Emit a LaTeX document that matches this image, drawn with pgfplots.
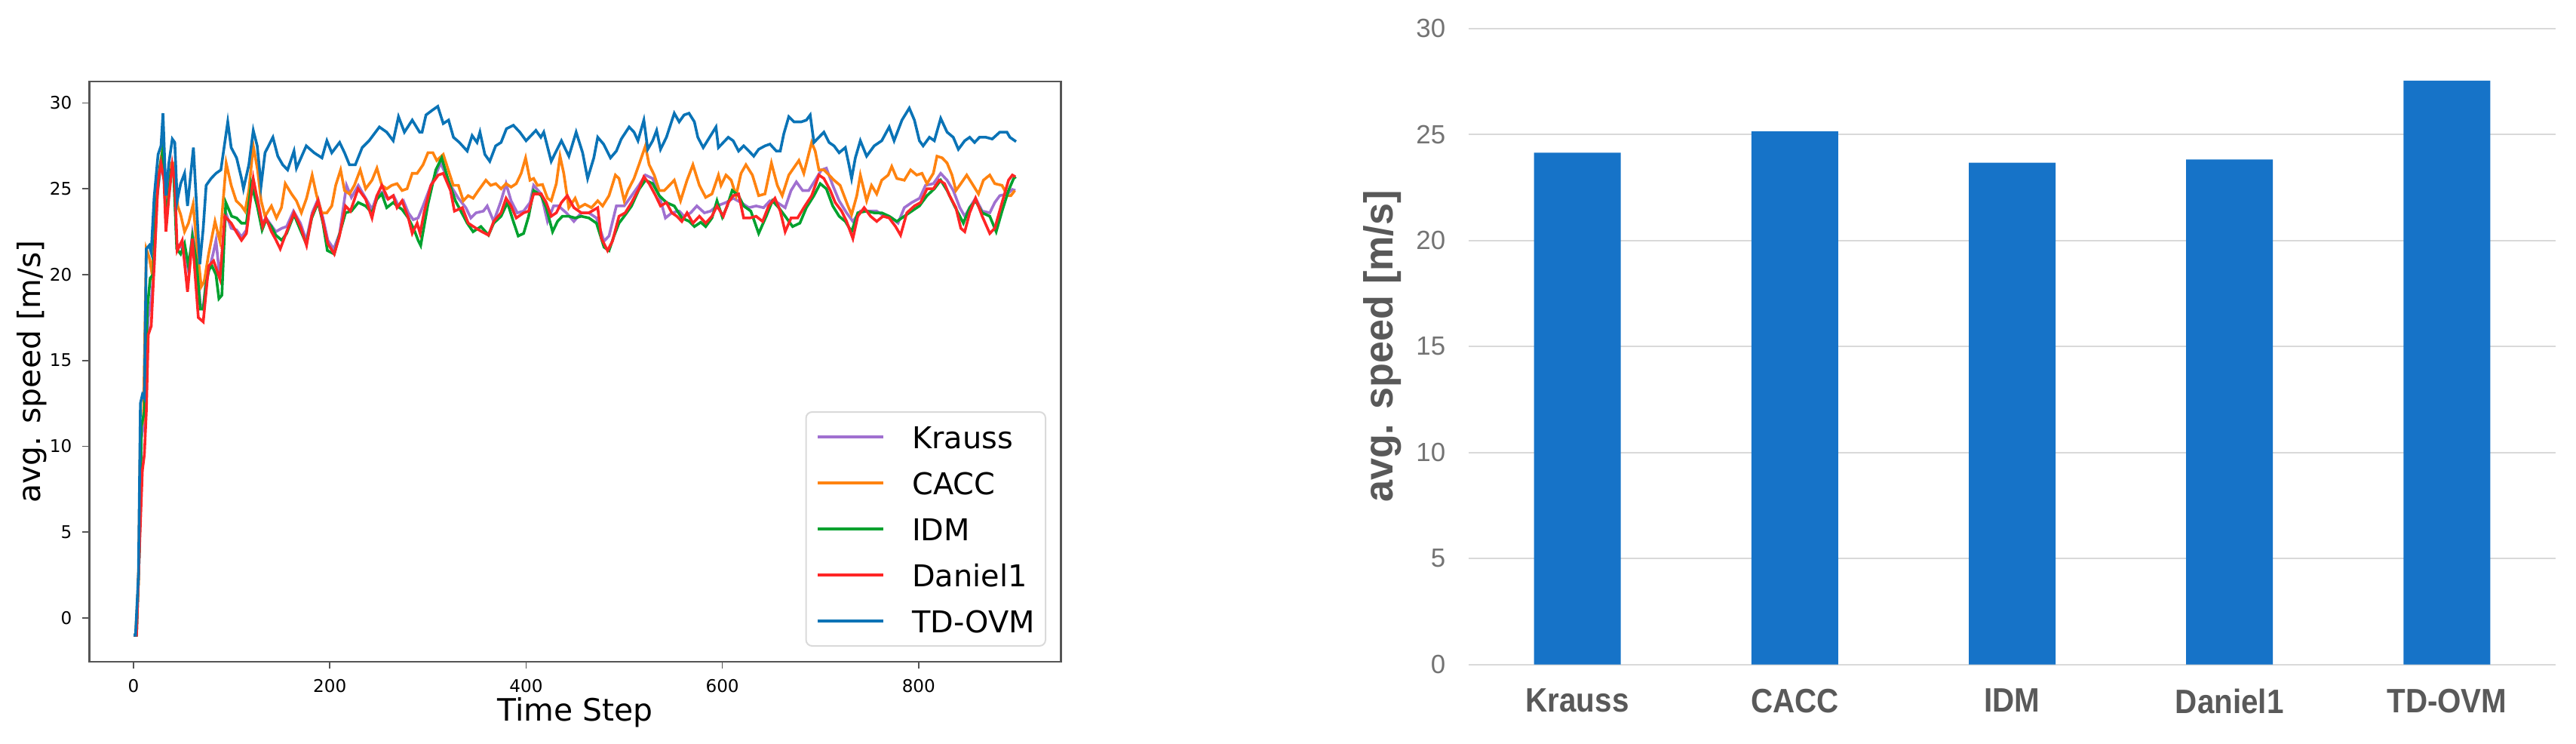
\documentclass[border=0pt]{standalone}
\usepackage{fontspec}
\usepackage{graphicx}
\usepackage{pgfplots}
\pgfplotsset{compat=1.18}
\setmainfont{DejaVu Sans}
\newfontfamily\libsans{Liberation Sans}
\definecolor{cKrauss}{HTML}{A070D0}
\definecolor{cCACC}{HTML}{FF8310}
\definecolor{cIDM}{HTML}{00A12E}
\definecolor{cDaniel}{HTML}{FF2525}
\definecolor{cTDOVM}{HTML}{0A73B6}
\definecolor{spine}{HTML}{555555}
\definecolor{legendgray}{HTML}{DADADA}
\definecolor{barblue}{HTML}{1673C8}
\definecolor{gridgray}{HTML}{D9D9D9}
\definecolor{tickgray}{HTML}{737373}
\definecolor{labgray}{HTML}{595959}
\pgfplotsset{/pgf/number format/assume math mode=true}
\begin{document}
\begin{tikzpicture}
\useasboundingbox (0,0) rectangle (853.75bp,-246.5bp);
% ---------------- left: time series ----------------
\begin{axis}[
  at={(29.625bp,-219.25bp)}, anchor=south west,
  width=322bp, height=192.25bp, scale only axis,
  xmin=-45, xmax=945, ymin=-2.55, ymax=31.25,
  xtick={0,200,400,600,800}, ytick={0,5,10,15,20,25,30},
  tick align=outside, tick pos=left, major tick length=2.3bp,
  tick style={color=spine, line width=0.4bp},
  axis line style={color=spine, line width=0.7bp},
  ticklabel style={font=\fontsize{5.8}{7}\selectfont, color=black},
  xlabel={Time Step}, ylabel={avg. speed [m/s]},
  label style={font=\fontsize{10.25}{12}\selectfont},
  xlabel style={at={(axis description cs:0.5,-0.0611)}, anchor=north, inner sep=0pt},
  ylabel style={at={(axis description cs:-0.0594,0.5)}, anchor=center},
  legend cell align=left,
  legend image code/.code={\draw[#1] (0bp,0bp) -- (21.75bp,0bp);},
  legend style={at={(rel axis cs:0.9849,0.026)}, anchor=south east,
    draw=legendgray, line width=0.5bp, rounded corners=2bp, fill=white,
    font=\fontsize{10}{12}\selectfont, inner xsep=3.5bp, inner ysep=4.5bp,
    row sep=7.75bp, column sep=9bp,
    nodes={inner sep=0pt, text height=7.5bp, text depth=0pt}},
  every axis plot/.append style={line width=0.9bp},
]
\addplot[cKrauss] coordinates {(0,-1)(3,-1)(6,4)(8,10.5)(11,11.5)(13,13)(15,17.5)(18,18.5)(21,20.5)(24,24.5)(28,26.5)(30,27)(33,23.5)(38,26.2)(41,25.8)(44,21.8)(48,21.6)(52,21.5)(56,20.2)(60,22.4)(64,21.0)(68,18.3)(71,18.0)(74,19.8)(78,20.5)(81,21.2)(84,22.0)(87,20.3)(90,20.8)(94,23.6)(99.5,22.7)(105,22.6)(110,22.2)(115,22.6)(120,25.0)(126,24.5)(131,23.0)(135,23.3)(140,22.9)(145,22.5)(151,22.7)(156,22.8)(163,23.7)(170,23.0)(176,22.0)(182,23.6)(188,24.4)(193,23.3)(198,22.0)(204,21.5)(210,22.4)(217,25.2)(222,24.5)(229,25.2)(236,24.5)(243,23.8)(248,24.6)(253,24.8)(259,24.4)(265,24.6)(270,24.0)(275,24.3)(280,23.6)(285,23.2)(290,23.3)(295,24.0)(303,25.2)(313,26.5)(323,25.2)(331,24.45)(338.6,23.9)(343.7,23.3)(349,23.6)(356.5,23.7)(360.4,24.0)(367,23.1)(374.5,24.3)(379.6,25.3)(384.7,24.3)(391,23.6)(397.5,23.7)(404,24.2)(407.7,25.2)(415.4,24.7)(421.8,23.1)(428,24.0)(433,24.0)(441,23.6)(448.7,23.1)(456.3,23.6)(464,23.6)(471.7,23.3)(479.4,21.95)(484.5,22.25)(492,24.0)(500,24.0)(507.5,24.6)(515,25.2)(521.6,25.8)(529,25.6)(535.7,24.6)(542,23.3)(548.5,23.6)(556,23.7)(561,23.4)(567.7,23.6)(574,24.0)(581.7,23.6)(588,23.7)(594.5,24.0)(603.7,24.2)(611,24.45)(619,24.2)(627,23.9)(634.4,24.0)(642,23.9)(648.5,24.3)(656,24.2)(664,23.9)(670,24.9)(675.4,25.4)(681.8,24.9)(688,24.9)(694.6,25.5)(701,26.1)(706,26.2)(712.5,25.2)(719,24.3)(726.6,23.6)(733,23.1)(740.6,23.7)(748,23.7)(757.3,23.7)(765,23.4)(772.6,23.3)(779,23.0)(785.4,23.9)(793,24.2)(801,24.45)(807,25.2)(815,25.3)(822.5,25.9)(829,25.5)(835.3,24.9)(842,23.9)(847,23.4)(852,23.9)(858,24.45)(864.8,23.7)(872.5,23.6)(877.6,24.2)(882.7,24.6)(890.4,24.7)(895.5,24.96)(898.6,24.9)};
\addlegendentry{Krauss}
\addplot[cCACC] coordinates {(0,-1)(2,-1)(5,2)(7,11)(10,11.5)(13,21.5)(16,21)(19,20)(22,23.5)(26,26)(30,27.5)(33,24.5)(38,26.5)(42,26.5)(45,24.0)(48,23.5)(52,22.5)(56,23.0)(60.7,24.1)(64,22.0)(69,19.3)(72,19.6)(76.5,21.2)(83,23.1)(88,21.95)(94.4,26.5)(99.5,25.2)(104.6,24.3)(110,24.0)(113.6,23.7)(117.5,24.9)(122,27.5)(126.4,26.1)(130,24.3)(134,23.4)(140.5,24.0)(145.6,23.3)(150.7,23.9)(154.6,25.3)(161,24.7)(166,24.3)(171,23.6)(176.3,24.45)(182,25.8)(186.6,24.6)(191.7,23.6)(197,23.6)(202,24.0)(206,25.2)(211,26.1)(215,24.9)(220,24.7)(225,25.2)(231,26.1)(236.5,25.0)(243,25.5)(248,26.2)(253,25.2)(258,25.0)(263,25.2)(268.5,25.3)(273.6,24.9)(278.7,25.0)(284,25.9)(289,25.9)(295,26.4)(300,27.1)(305,27.1)(309,26.65)(315.6,27.0)(320.7,26.1)(325.8,25.2)(331,25.2)(336,24.3)(341,24.6)(346,24.45)(351.4,24.9)(359,25.5)(364,25.2)(369,25.3)(374.5,25.0)(379.6,25.3)(384.7,25.1)(390,25.3)(395,25.9)(399.5,26.8)(404,25.5)(407.7,25.6)(411.6,25.2)(416.7,25.25)(421.8,24.45)(425.6,24.3)(430.8,25.3)(434.6,26.9)(438.4,25.9)(443.5,23.9)(450,24.45)(453.8,23.9)(460,24.1)(466.6,23.9)(473,24.3)(478,24.0)(484.5,24.6)(491,25.8)(494.7,25.6)(500,24.3)(503.7,24.9)(510,25.6)(515,26.4)(521.6,27.5)(525.4,26.4)(530.6,25.8)(535.7,24.9)(540.8,24.9)(546,25.2)(551,25.5)(557.4,24.3)(564,25.5)(570,26.4)(576.6,25.2)(583,24.5)(589.4,24.7)(596,25.8)(598.6,25.2)(603.7,25.8)(609,25.5)(614,24.6)(619,25.9)(624,26.4)(630.6,25.8)(637,24.6)(643.4,24.7)(650,26.5)(656,25.2)(661,24.6)(667.7,25.8)(678,26.65)(683,25.9)(691,27.7)(694.6,27.2)(698.4,26.1)(703.5,26.1)(708.7,25.8)(713.8,25.5)(720,25.2)(724,24.6)(728,24.0)(731.7,23.5)(737,24.6)(740.6,25.8)(747,24.3)(752,25.2)(757.3,24.7)(762.4,25.5)(769,25.8)(772.6,26.3)(777.8,25.6)(785.4,25.5)(791.8,26.1)(798,25.8)(803.4,25.9)(808.5,25.3)(815,25.9)(818.7,26.9)(824,26.8)(829,26.5)(834,25.8)(838,24.9)(843,25.3)(849,25.8)(854.5,25.3)(861,24.7)(866,25.5)(872.5,25.8)(877.6,25.3)(885,25.2)(890.4,24.6)(894,24.6)(898,24.9)};
\addlegendentry{CACC}
\addplot[cIDM] coordinates {(0,-1)(3,-1)(6,4)(8,11.2)(11,12.0)(14,18.0)(17,19.8)(20,20.0)(23,24.0)(27,26.3)(30,27.3)(33,23.0)(38,26.0)(41,25.8)(44,21.5)(48,21.2)(52,21.8)(56,20.5)(60,22.2)(64,20.8)(68,18.0)(71,18.0)(74,19.5)(77,20.3)(80,20.5)(84,20.0)(87,18.6)(90,18.8)(94,24.2)(100,23.4)(105,23.3)(110,23.0)(115,23.0)(120,25.3)(126,24.0)(131,22.6)(135,23.2)(140.5,22.8)(145,22.3)(151,22.0)(156,22.4)(163.5,23.5)(170,22.6)(176,21.8)(181.6,23.3)(188,24.2)(193,23.0)(197.5,21.4)(204.5,21.2)(209.6,22.3)(216,23.6)(222,23.7)(229,24.2)(236.5,24.0)(243,23.6)(248,24.4)(253,24.7)(258,23.9)(264.6,24.2)(268.5,24.0)(273.6,23.8)(280,23.3)(286,22.6)(290,22.0)(292.6,21.7)(300,24.1)(308,26.1)(314,26.8)(320.7,25.5)(328,24.3)(333.5,23.7)(340,23.0)(346,22.5)(354,22.8)(361.7,22.3)(367,23.0)(374.5,23.4)(381,24.2)(387,23.1)(392,22.25)(397.5,22.4)(402.6,23.4)(407.7,24.9)(415.4,24.6)(420.5,23.9)(427,22.5)(432,23.1)(437,23.4)(443.6,23.4)(450,23.3)(456.3,23.4)(464,23.3)(471.7,23.0)(479.4,21.6)(484.5,21.4)(489.6,22.25)(494.7,23.0)(500,23.4)(507.5,24.0)(515,24.96)(521.6,25.5)(529,25.3)(535.7,24.6)(543,24.2)(551,24.0)(558.7,23.3)(566.4,23.1)(571.5,22.8)(578,23.05)(583,22.8)(589.4,23.3)(594.5,24.3)(600,23.35)(605,24.0)(610,24.9)(616.5,24.6)(621.7,24.0)(629,23.7)(637,22.4)(644.7,23.4)(651,24.3)(657.5,23.9)(664,23.4)(671.6,22.8)(679,23.0)(685.6,23.9)(693.3,24.6)(699.7,25.3)(706,25.0)(712.5,24.0)(719,23.4)(725.3,23.1)(731.7,22.5)(738,23.6)(747,23.7)(754.7,23.6)(762.4,23.6)(770,23.4)(777.8,23.1)(785.4,23.4)(793,23.7)(800.8,24.0)(808.5,24.6)(816,25.0)(822.5,25.5)(829,24.9)(836.6,24.0)(845.6,23.0)(852,23.9)(858,24.3)(864.8,23.6)(872.5,23.4)(879,22.5)(885,23.7)(891.6,24.9)(896.8,25.6)(899,25.7)};
\addlegendentry{IDM}
\addplot[cDaniel] coordinates {(0,-1)(3,-1)(6,4)(9,8.6)(11,9.5)(13,12.0)(15,16.5)(18,17.0)(21,20.5)(25,25.5)(28,26.5)(31,25.5)(33,22.5)(36,24.5)(39.5,26.4)(42,25.5)(44.5,21.4)(49.6,22.0)(55,19.0)(60,22.1)(66,17.5)(71,17.25)(76.5,20.5)(81.6,20.8)(88,19.75)(93,23.4)(99.5,23.0)(104.6,22.5)(110,22.0)(115,22.4)(122,25.6)(126.4,24.3)(131.5,22.8)(135,23.3)(140.5,22.5)(144.4,22.1)(149.5,21.5)(156,22.5)(163.5,23.6)(170,22.8)(176.3,21.7)(181.6,23.4)(188,24.3)(193,23.1)(198,21.8)(204.5,21.2)(209.6,22.2)(216,24.0)(221,23.7)(228.8,25.0)(236.5,24.4)(243,23.3)(248,24.6)(253,25.2)(259.5,24.4)(264.6,24.6)(268.5,23.9)(273.6,24.3)(280,23.3)(284,22.4)(289,23.0)(292,22.4)(296,23.6)(303,25.2)(310.5,25.8)(315.6,25.9)(323,24.9)(327,23.7)(335,23.9)(341,23.0)(349,22.7)(355,22.5)(361.7,22.3)(367,23.1)(374.5,23.6)(379.6,24.45)(384.7,24.0)(390,23.3)(397.5,23.6)(402.6,23.7)(407.7,24.7)(415.4,24.7)(420.5,24.2)(425.6,23.4)(430.8,23.6)(436,24.2)(442,24.6)(448.7,23.9)(456.3,23.6)(464,23.6)(473,23.9)(476.8,22.1)(483,21.4)(488,21.95)(494.7,23.4)(501,23.6)(507.5,24.2)(515,25.0)(520,25.7)(525.4,25.3)(532,24.6)(537,24.0)(543,24.2)(548.5,23.6)(553.6,23.4)(558.7,23.1)(564,23.6)(570,23.0)(576.6,23.4)(583,23.0)(589.4,23.4)(594.5,24.0)(601,23.4)(606,24.2)(611,24.6)(616.5,24.7)(621.7,23.3)(628,23.3)(634.4,23.4)(641,23.1)(647.2,24.0)(653.6,24.45)(659,23.7)(664,22.5)(670,23.3)(676.7,23.3)(683,23.9)(691,24.6)(698.4,25.8)(703.5,25.6)(710,24.9)(715,24.2)(721.5,23.7)(726.6,23.1)(733,22.1)(738,23.4)(744.5,23.9)(751,23.4)(757.3,23.1)(763.7,23.4)(770,23.3)(776.5,22.8)(781.6,22.3)(788,23.6)(795.7,24.0)(802,24.2)(808.5,25.0)(815,25.0)(821,25.5)(826.4,25.3)(831.5,24.6)(838,23.9)(843,22.7)(847,22.5)(852,23.6)(858,24.45)(864.8,23.4)(872.5,22.4)(877.6,22.7)(885,24.2)(891.6,25.5)(895.5,25.8)(898.6,25.7)};
\addlegendentry{Daniel1}
\addplot[cTDOVM] coordinates {(0,-1)(2,-1)(5,2.5)(7,12.5)(9,13.0)(11,12.8)(13,21.5)(16,21.7)(18,21.3)(21,24.5)(25,27.0)(28,27.5)(30,29.4)(33,24.6)(36,26.5)(39.5,27.9)(42,27.7)(44.5,24.3)(48,25.3)(52,25.9)(55,24.0)(61,27.4)(67.5,20.6)(71,22.7)(74,25.2)(79,25.6)(84,25.9)(89,26.1)(96,28.9)(99.5,27.4)(105,26.8)(110,25.6)(112,25.0)(117.5,26.4)(122,28.4)(126,27.5)(130,25.2)(134,27.1)(142,28.0)(147,26.9)(152,26.4)(157,26.1)(163.5,27.2)(166,26.2)(176,27.5)(184,27.1)(192,26.8)(197,27.8)(202,27.1)(210,27.7)(215,27.1)(220,26.4)(226,26.4)(233,27.4)(240,27.8)(250.5,28.6)(258,28.3)(264.6,27.8)(270,29.2)(276,28.3)(284,29.0)(291.5,28.3)(294,28.3)(298,29.3)(305,29.6)(310,29.8)(315.6,28.8)(321,29.0)(326,28.0)(332,27.7)(340,27.2)(345,28.1)(350,27.7)(353,28.3)(358,27.0)(363,26.6)(369,27.5)(374.5,27.7)(380,28.5)(387,28.7)(393.6,28.3)(400,27.8)(405,28.1)(410,28.4)(415,28.0)(418,28.3)(425.6,26.6)(436,27.8)(443.6,26.9)(451,28.3)(457.6,27.1)(462.7,25.6)(469,26.8)(473,28.0)(479,27.6)(486,26.8)(492,27.2)(497,27.9)(505,28.6)(510,28.3)(514,27.8)(520,29.0)(524,27.3)(529,27.8)(533,28.4)(537,27.3)(543,28.0)(551,29.4)(556,28.9)(561,29.3)(566,29.4)(571.5,28.9)(575,28.0)(580.5,27.4)(587,28.0)(593.5,28.6)(596,27.4)(601,27.7)(606,28.0)(611,27.8)(616.5,27.2)(621.7,27.5)(627,27.2)(632,26.9)(637,27.3)(643.4,27.5)(648.5,27.6)(655,27.2)(659,27.2)(662.6,28.2)(667.7,29.2)(673,28.9)(680.5,28.9)(685.6,29.0)(689.5,29.3)(693.3,27.7)(698.4,28.0)(703.5,28.3)(708.7,27.7)(713.8,27.5)(719,27.1)(725.3,27.4)(729,26.4)(731.7,25.6)(735.5,26.8)(740.6,27.8)(747,26.9)(754.7,27.5)(762.4,27.8)(770,28.6)(775,27.8)(783,29.0)(790.5,29.7)(795.7,29.0)(800.8,27.8)(804.6,27.5)(811,28.0)(816,27.8)(822.5,29.1)(829,28.3)(835.3,28.0)(840.5,27.3)(847,27.8)(852,28.0)(857,27.7)(862,28.0)(868.6,28.0)(875,27.9)(882.7,28.3)(890,28.3)(893,28.0)(899.3,27.75)};
\addlegendentry{TD-OVM}
\end{axis}
% ---------------- right: bar chart ----------------
\begin{axis}[
  at={(486.75bp,-220.125bp)}, anchor=south west,
  width=360.25bp, height=210.7bp, scale only axis,
  xmin=-0.5, xmax=4.5, ymin=0, ymax=30,
  ybar, bar width=28.75bp,
  xtick={0,1,2,3,4},
  xticklabels={\scalebox{0.9}[1]{Krauss},\scalebox{0.9}[1]{CACC},\scalebox{0.9}[1]{IDM},\scalebox{0.9}[1]{Daniel1},\scalebox{0.9}[1]{TD-OVM}},
  ytick={0,5,10,15,20,25,30},
  ymajorgrids, grid style={color=gridgray, line width=0.5bp},
  axis line style={draw=none}, major tick length=0pt, tick style={draw=none},
  yticklabel style={font=\libsans\fontsize{8.75}{10}\selectfont, color=tickgray, inner sep=0pt, xshift=-7.5bp},
  xticklabel style={font=\libsans\bfseries\fontsize{11.25}{13}\selectfont, color=labgray, inner sep=0pt, yshift=-7.9bp},
  ylabel={\scalebox{0.97}[1]{avg. speed [m/s]}},
  ylabel style={at={(axis description cs:-0.0791,0.5)}, anchor=center, font=\libsans\bfseries\fontsize{13.5}{15}\selectfont, color=labgray},
]
\addplot[fill=barblue, draw=none] coordinates {(0,24.14)(1,25.14)(2,23.67)(3,23.82)(4,27.54)};
\end{axis}
\end{tikzpicture}
\end{document}
